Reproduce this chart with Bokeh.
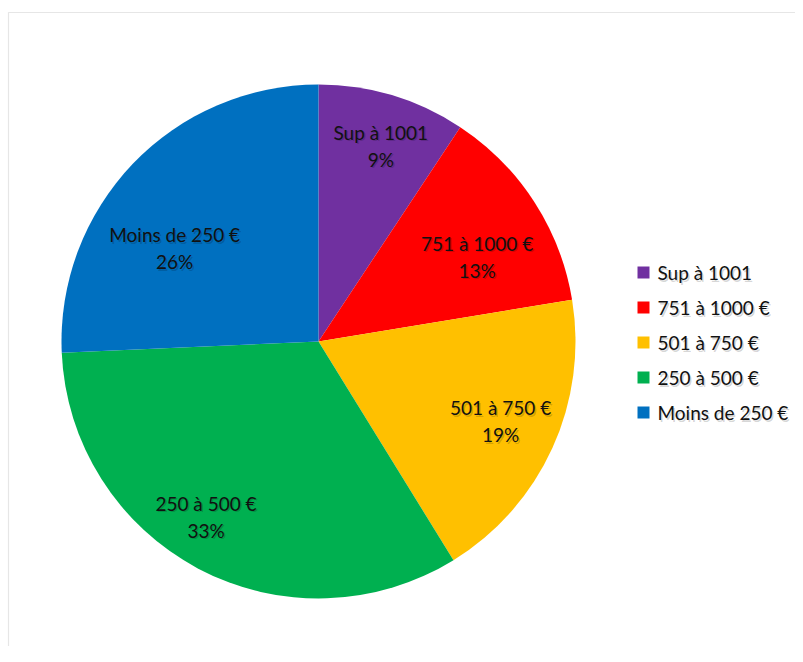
import math
from bokeh.plotting import figure
from bokeh.models import Range1d, BoxAnnotation, ColumnDataSource
from bokeh.core.properties import value
from bokeh.embed import file_html
from bokeh.resources import INLINE

# ---- data ----
categories = ["Sup à 1001", "751 à 1000 €", "501 à 750 €", "250 à 500 €", "Moins de 250 €"]
shares = [9.3, 13.1, 18.8, 33.1, 25.7]
colors = ["#7030A0", "#FF0000", "#FFC000", "#00B050", "#0070C0"]
pct_labels = ["9%", "13%", "19%", "33%", "26%"]

# label placement (fraction of radius, clockwise nudge in degrees)
label_r = [0.80, 0.70, 0.774, 0.81, 0.667]
label_shift_deg = [0.9, 4.8, -0.8, 4.8, -10.8]

W, H = 795, 646
FONT = "Lato"
FS = "19px"

p = figure(width=W, height=H, output_backend="svg", toolbar_location=None,
           x_range=Range1d(0, W), y_range=Range1d(0, H), min_border=0)
p.axis.visible = False
p.grid.visible = False
p.outline_line_color = None
p.background_fill_color = "white"
p.border_fill_color = "white"

# chart area border (only top/left visible in the window)
p.add_layout(BoxAnnotation(left=8, right=W + 50, top=634, bottom=-50,
                           fill_alpha=0, line_color="#ababab", line_width=1.2))

cx, cy, R = 318, 305, 257
total = sum(shares)
starts, ends, lx, ly = [], [], [], []
cum = 0.0
for i, v in enumerate(shares):
    a0 = math.pi / 2 - 2 * math.pi * cum / total
    a1 = math.pi / 2 - 2 * math.pi * (cum + v) / total
    starts.append(a0)
    ends.append(a1)
    mid = (a0 + a1) / 2 - math.radians(label_shift_deg[i])
    lx.append(cx + label_r[i] * R * math.cos(mid))
    ly.append(cy + label_r[i] * R * math.sin(mid))
    cum += v

src = ColumnDataSource(dict(start=starts, end=ends, color=colors, cat=categories,
                            pct=pct_labels, lx=lx, ly=ly))
p.wedge(x=cx, y=cy, radius=R, start_angle="start", end_angle="end",
        direction="clock", fill_color="color", line_color=None, source=src)

for col, off in (("cat", -13.5), ("pct", 13.5)):
    # soft shadow
    p.text(x="lx", y="ly", text=col, source=src, text_font=value(FONT),
           text_font_size=FS, text_align="center", text_baseline="middle",
           y_offset=off + 1.5, x_offset=1.5, text_color="#000000", text_alpha=0.18)
    p.text(x="lx", y="ly", text=col, source=src, text_font=value(FONT),
           text_font_size=FS, text_align="center", text_baseline="middle",
           y_offset=off, text_color="#111111")

# legend
leg_x0, leg_y0, leg_step = 643, 374, 35
leg_src = ColumnDataSource(dict(
    x=[leg_x0] * len(categories),
    y=[leg_y0 - i * leg_step for i in range(len(categories))],
    tx=[leg_x0 + 14] * len(categories),
    color=colors, cat=categories))
p.rect(x="x", y="y", width=12, height=12, fill_color="color", line_color=None, source=leg_src)
p.text(x="tx", y="y", text="cat", source=leg_src, text_font=value(FONT), text_font_size=FS,
       text_align="left", text_baseline="middle", x_offset=1.5, y_offset=1.5,
       text_color="#000000", text_alpha=0.18)
p.text(x="tx", y="y", text="cat", source=leg_src, text_font=value(FONT), text_font_size=FS,
       text_align="left", text_baseline="middle", text_color="#111111")

open("out.html", "w").write(file_html(p, INLINE))
